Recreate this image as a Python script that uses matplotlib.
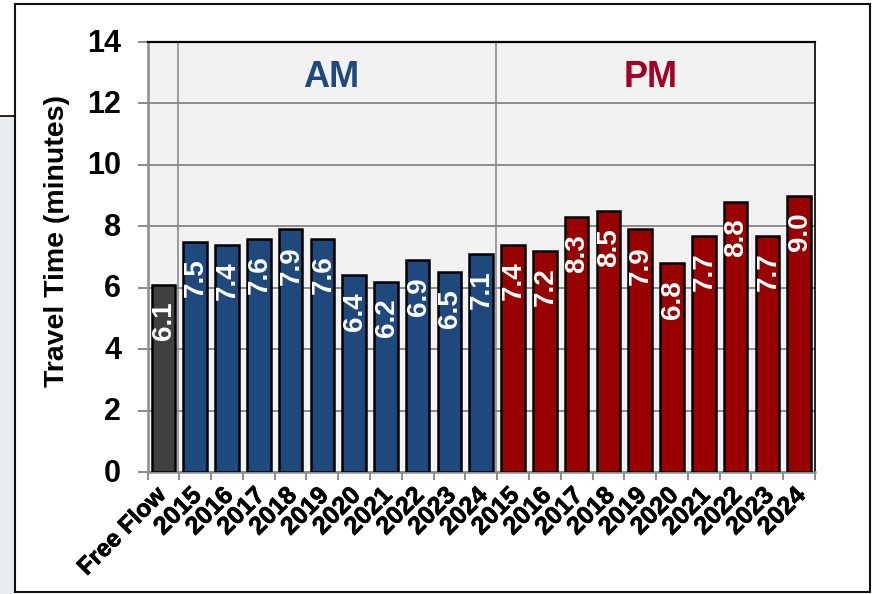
import matplotlib
matplotlib.use('Agg')
import matplotlib.pyplot as plt
import matplotlib.patheffects as pe
from matplotlib.patches import Rectangle
from matplotlib.transforms import ScaledTranslation

W, H = 877, 594

labels = ['Free Flow', '2015', '2016', '2017', '2018', '2019', '2020', '2021', '2022', '2023', '2024',
          '2015', '2016', '2017', '2018', '2019', '2020', '2021', '2022', '2023', '2024']
free_flow = [6.1]
am_times = [7.5, 7.4, 7.6, 7.9, 7.6, 6.4, 6.2, 6.9, 6.5, 7.1]
pm_times = [7.4, 7.2, 8.3, 8.5, 7.9, 6.8, 7.7, 8.8, 7.7, 9.0]

values = free_flow + am_times + pm_times
colors = ['#404040'] + ['#1F497D'] * len(am_times) + ['#990000'] * len(pm_times)

plt.rcParams['font.family'] = ['Liberation Sans', 'DejaVu Sans']
plt.rcParams['font.weight'] = 'bold'

fig = plt.figure(figsize=(W / 100, H / 100), dpi=100, facecolor='white')

# backdrop behind the chart panel
fig.add_artist(Rectangle((0, 0), 15 / W, 1 - 116 / H, transform=fig.transFigure,
                         facecolor='#e8edf2', edgecolor='none', zorder=-3))
fig.add_artist(plt.Line2D([0, 15 / W], [1 - 116 / H] * 2, color='black', lw=1.2, zorder=-2))
fig.add_artist(Rectangle((15 / W, 1 - 591.5 / H), 855 / W, 587.5 / H, transform=fig.transFigure,
                         facecolor='white', edgecolor='#111111', lw=1.5, zorder=-1))

ax = fig.add_axes([147.5 / W, 1 - 472 / H, 667.5 / W, 430 / H])
ax.set_facecolor('#F2F2F2')

x = range(len(values))
ax.bar(x, values, width=0.74, color=colors, edgecolor='black', linewidth=1.8, zorder=3)

ax.set_xlim(-0.5, len(values) - 0.5)
ax.set_ylim(0, 14)
ax.yaxis.grid(True, color='#8c8c8c', lw=1.4, zorder=1)
ax.set_axisbelow(True)

# separators between free flow / AM / PM
for sep in [0.45, 10.45]:
    ax.axvline(sep, color='#8c8c8c', lw=1.2, zorder=1)

for xi, v in zip(x, values):
    ax.text(xi + 0.03, v - 0.55, f'{v:.1f}', rotation=90, ha='center', va='top',
            color='white', fontsize=20, fontweight='bold', zorder=4)

ax.text(5.28, 12.85, 'AM', color='#1F497D', fontsize=26, ha='center', va='center')
ax.text(15.34, 12.85, 'PM', color='#A50021', fontsize=26, ha='center', va='center')

ax.set_yticks(range(0, 15, 2))
ax.set_xticks([i - 0.5 for i in range(len(values) + 1)], minor=False)
ax.set_xticklabels([''] * (len(values) + 1))
ax.tick_params(axis='x', length=6, width=1.4, color='#8c8c8c')
ax.tick_params(axis='y', length=7, width=1.4, color='#8c8c8c', labelsize=22, pad=12, labelcolor='black')
for lab in ax.get_yticklabels():
    lab.set_transform(lab.get_transform() + ScaledTranslation(0, 2 / 100, fig.dpi_scale_trans))

# category labels sit between the tick marks
ax.set_xticks(list(x), labels=labels, minor=True)
ax.tick_params(axis='x', which='minor', length=0, labelsize=18, pad=8)
for i, lab in enumerate(ax.get_xticklabels(minor=True)):
    lab.set_rotation(45)
    lab.set_ha('right')
    lab.set_rotation_mode('anchor')
    lab.set_fontweight('bold')
    lab.set_path_effects([pe.withStroke(linewidth=0.5, foreground='black')])
    dx = -9 if i == 0 else -6
    lab.set_transform(lab.get_transform() + ScaledTranslation(dx / 100, 0, fig.dpi_scale_trans))
ax.get_xticklabels(minor=True)[0].set_fontsize(17.5)

for side in ['left', 'bottom']:
    ax.spines[side].set_color('#8c8c8c')
    ax.spines[side].set_linewidth(1.8)
ax.spines['top'].set_color('black')
ax.spines['top'].set_linewidth(1.6)
ax.spines['right'].set_color('black')
ax.spines['right'].set_linewidth(1.2)

fig.text(57 / W, 1 - 241 / H, 'Travel Time (minutes)', rotation=90, ha='center', va='center',
         fontsize=20.5, fontweight='bold')

fig.savefig('out.png', dpi=100)
